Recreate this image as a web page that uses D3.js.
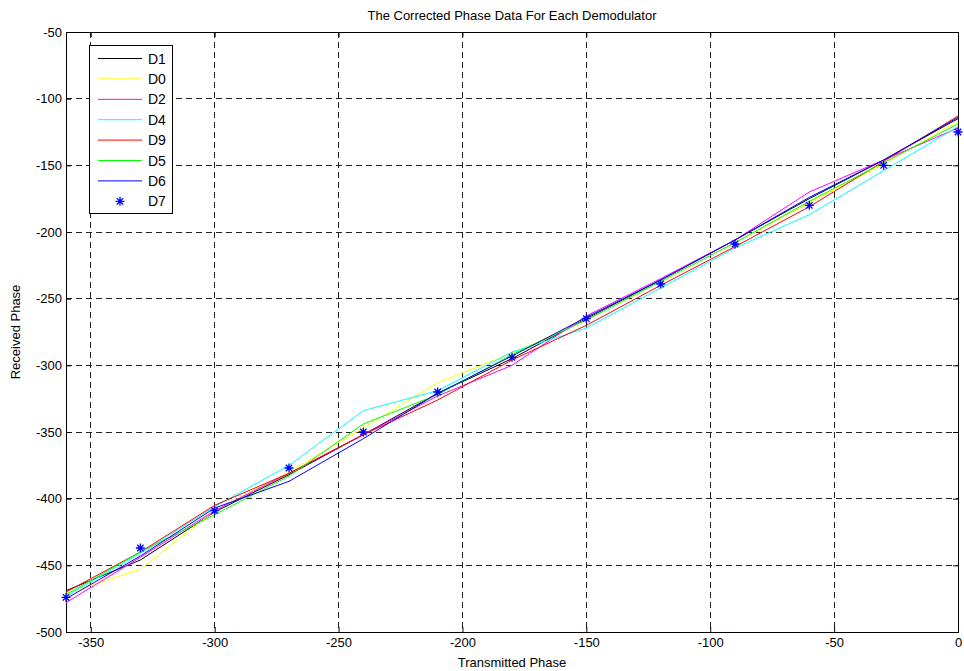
<!DOCTYPE html>
<html>
<head>
<meta charset="utf-8">
<script src="https://cdn.jsdelivr.net/npm/d3@7/dist/d3.min.js"></script>
<style>
    body { margin: 0; background: #fff; }
    svg text { font-family: 'Liberation Sans', Arial, Helvetica, sans-serif; fill: #000; }
</style>
</head>
<body>
<svg id="chart" width="964" height="671"></svg>
<script>
// transmitted phase (x) and received phase for each demodulator
var xPhase = [-360, -330, -300, -270, -240, -210, -180, -150, -120, -90, -60, -30, 0];
var seriesNames = ['D1', 'D0', 'D2', 'D4', 'D9', 'D5', 'D6', 'D7'];
var d1 = [-469, -446, -410, -382, -352, -321, -295, -265, -236, -206, -175, -146, -115];
var d0 = [-471, -453, -409, -380, -347, -313, -291, -266, -237, -208, -178, -149, -117];
var d2 = [-478, -444, -409, -381, -352, -323, -300, -263, -235, -206, -170, -146, -122];
var d4 = [-473, -441, -406, -375, -334, -319, -290, -272, -242, -212, -187, -154, -121];
var d9 = [-470, -440, -405, -381, -352, -326, -296, -270, -240, -211, -181, -147, -113];
var d5 = [-472, -440, -412, -383, -344, -322, -292, -266, -237, -208, -177, -148, -119];
var d6 = [-475, -443, -407, -387, -355, -321, -293, -264, -236, -206, -174, -146, -114];
var d7 = [-474, -437, -409, -377, -350, -320, -294, -265, -239, -209, -180, -150, -125];
var xTicks = [-350, -300, -250, -200, -150, -100, -50, 0];
var yTicks = [-500, -450, -400, -350, -300, -250, -200, -150, -100, -50];

var seriesValues = [d1, d0, d2, d4, d9, d5, d6, d7];
var colors = ['#000000', '#ffff00', '#ff00ff', '#00ffff', '#ff0000', '#00ff00', '#0000ff', '#0000ff'];

var svg = d3.select('#chart'),
    margin = {top: 32, right: 6, bottom: 39, left: 66},
    width = +svg.attr('width') - margin.left - margin.right,
    height = +svg.attr('height') - margin.top - margin.bottom,
    g = svg.append('g').attr('transform', 'translate(' + margin.left + ',' + margin.top + ')');

var x = d3.scaleLinear().domain([-360, 0]).range([0, width]);
var y = d3.scaleLinear().domain([-500, -50]).range([height, 0]);

// grid
g.append('g').selectAll('line')
    .data(xTicks.filter(function(d) { return d > -360 && d < 0; }))
    .enter().append('line')
    .attr('x1', function(d) { return x(d); })
    .attr('x2', function(d) { return x(d); })
    .attr('y1', 0).attr('y2', height)
    .attr('stroke', '#222').attr('stroke-width', 1).attr('stroke-dasharray', '6,4')
    .attr('shape-rendering', 'crispEdges');
g.append('g').selectAll('line')
    .data(yTicks.filter(function(d) { return d > -500 && d < -50; }))
    .enter().append('line')
    .attr('y1', function(d) { return y(d); })
    .attr('y2', function(d) { return y(d); })
    .attr('x1', 0).attr('x2', width)
    .attr('stroke', '#222').attr('stroke-width', 1).attr('stroke-dasharray', '6,4')
    .attr('shape-rendering', 'crispEdges');

// axes, ticks inside like matlab
var fmt = function(d) { return d === 0 ? '0' : '-' + Math.abs(d); };
g.append('g')
    .attr('transform', 'translate(0,' + height + ')')
    .call(d3.axisBottom(x).tickValues(xTicks).tickSizeInner(-5).tickSizeOuter(0).tickPadding(6).tickFormat(fmt));
g.append('g')
    .call(d3.axisLeft(y).tickValues(yTicks).tickSizeInner(-5).tickSizeOuter(0).tickPadding(4).tickFormat(fmt));
g.append('g')
    .call(d3.axisTop(x).tickValues(xTicks).tickSizeInner(-5).tickSizeOuter(0).tickFormat(''));
g.append('g')
    .attr('transform', 'translate(' + width + ',0)')
    .call(d3.axisRight(y).tickValues(yTicks).tickSizeInner(-5).tickSizeOuter(0).tickFormat(''));
g.selectAll('.domain').remove();
g.selectAll('.tick line').attr('stroke', '#000');
g.selectAll('.tick text').attr('font-size', 13);

g.append('rect')
    .attr('x', 0).attr('y', 0).attr('width', width).attr('height', height)
    .attr('fill', 'none').attr('stroke', '#000').attr('stroke-width', 1)
    .attr('shape-rendering', 'crispEdges');

// lines
var line = d3.line()
    .x(function(d, i) { return x(xPhase[i]); })
    .y(function(d) { return y(d); });

seriesValues.forEach(function(vals, k) {
    if (seriesNames[k] === 'D7') return;
    g.append('path')
        .datum(vals)
        .attr('d', line)
        .attr('fill', 'none')
        .attr('stroke', colors[k])
        .attr('stroke-width', 1);
});

var star = 'M-4.5,0H4.5M0,-4.5V4.5M-3.2,-3.2L3.2,3.2M-3.2,3.2L3.2,-3.2';
g.append('g').selectAll('path')
    .data(d7)
    .enter().append('path')
    .attr('transform', function(d, i) { return 'translate(' + x(xPhase[i]) + ',' + y(d) + ')'; })
    .attr('d', star)
    .attr('fill', 'none')
    .attr('stroke', '#0000ff')
    .attr('stroke-width', 1.3);

// labels
svg.append('text')
    .attr('x', margin.left + width / 2).attr('y', 20)
    .attr('text-anchor', 'middle').attr('font-size', 13)
    .text('The Corrected Phase Data For Each Demodulator');
svg.append('text')
    .attr('x', margin.left + width / 2).attr('y', 667)
    .attr('text-anchor', 'middle').attr('font-size', 13)
    .text('Transmitted Phase');
svg.append('text')
    .attr('transform', 'translate(20,' + (margin.top + height / 2) + ') rotate(-90)')
    .attr('text-anchor', 'middle').attr('font-size', 13)
    .text('Received Phase');

// legend
var lg = g.append('g').attr('transform', 'translate(23,13)');
lg.append('rect')
    .attr('width', 83).attr('height', 168)
    .attr('fill', '#fff').attr('stroke', '#000').attr('stroke-width', 1)
    .attr('shape-rendering', 'crispEdges');
var item = lg.selectAll('.item')
    .data(seriesNames)
    .enter().append('g')
    .attr('class', 'item')
    .attr('transform', function(d, i) { return 'translate(0,' + (13.5 + i * 20.4) + ')'; });
item.filter(function(d) { return d !== 'D7'; })
    .append('line')
    .attr('x1', 9).attr('x2', 53)
    .attr('stroke', function(d) { return colors[seriesNames.indexOf(d)]; })
    .attr('stroke-width', 1);
item.filter(function(d) { return d === 'D7'; })
    .append('path')
    .attr('transform', 'translate(31,0)')
    .attr('d', star)
    .attr('fill', 'none').attr('stroke', '#0000ff').attr('stroke-width', 1.3);
item.append('text')
    .attr('x', 59).attr('dy', '0.36em')
    .attr('font-size', 14)
    .text(function(d) { return d; });
</script>
</body>
</html>
